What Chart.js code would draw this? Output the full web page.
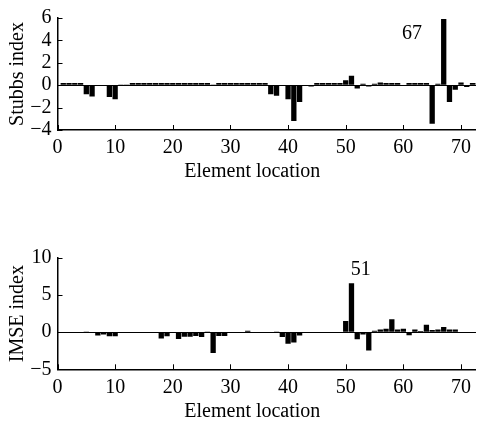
<!DOCTYPE html>
<html>
<head>
<meta charset="utf-8">
<script src="https://cdn.jsdelivr.net/npm/chart.js@4.4.0/dist/chart.umd.min.js"></script>
<style>
    html, body { margin: 0; padding: 0; background: #fff; }
    #wrap { position: relative; width: 477px; height: 428px; overflow: hidden; }
    .box { position: absolute; left: 0; width: 477px; height: 188px; }
    #topBox { top: 0; }
    #bottomBox { top: 240px; }
</style>
</head>
<body>
<div id="wrap">
    <div class="box" id="topBox"><canvas id="stubbsChart"></canvas></div>
    <div class="box" id="bottomBox"><canvas id="imseChart"></canvas></div>
</div>
<script>
// element locations 1..73
const locations = [
    1, 2, 3, 4, 5, 6, 7, 8, 9, 10,
    11, 12, 13, 14, 15, 16, 17, 18, 19, 20,
    21, 22, 23, 24, 25, 26, 27, 28, 29, 30,
    31, 32, 33, 34, 35, 36, 37, 38, 39, 40,
    41, 42, 43, 44, 45, 46, 47, 48, 49, 50,
    51, 52, 53, 54, 55, 56, 57, 58, 59, 60,
    61, 62, 63, 64, 65, 66, 67, 68, 69, 70,
    71, 72, 73
];

const stubbsValues = [
    0.2, 0.2, 0.2, 0.2, -0.8, -1.0, -0.05, -0.05, -1.05, -1.25,
    0.07, 0.07, 0.2, 0.2, 0.2, 0.2, 0.2, 0.2, 0.2, 0.2,
    0.2, 0.2, 0.2, 0.2, 0.2, 0.2, 0.07, 0.2, 0.2, 0.2,
    0.2, 0.2, 0.2, 0.2, 0.2, 0.2, -0.8, -0.95, -0.05, -1.25,
    -3.2, -1.5, -0.05, -0.12, 0.2, 0.2, 0.2, 0.2, 0.2, 0.45,
    0.85, -0.3, 0.12, -0.12, 0.12, 0.25, 0.2, 0.2, 0.2, 0.03,
    0.2, 0.2, 0.2, 0.2, -3.45, 0.12, 5.9, -1.5, -0.4, 0.25,
    -0.15, 0.2, 0.2
];

const imseValues = [
    0, -0.05, 0, -0.1, 0.1, 0, -0.45, -0.3, -0.55, -0.55,
    -0.05, 0, 0, 0, 0, 0, -0.1, -0.85, -0.55, 0,
    -0.9, -0.6, -0.6, -0.5, -0.65, 0.1, -2.8, -0.5, -0.5, 0,
    0, 0, 0.2, 0.05, 0, 0, 0.05, 0.1, -0.65, -1.55,
    -1.4, -0.45, 0, -0.1, 0, 0, 0, 0, 0.05, 1.5,
    6.6, -0.95, -0.3, -2.45, 0.2, 0.35, 0.45, 1.75, 0.35, 0.45,
    -0.4, 0.35, 0.15, 1.0, 0.3, 0.35, 0.7, 0.35, 0.35, 0,
    0.05, 0, 0
];

const locationTicks = [0, 10, 20, 30, 40, 50, 60, 70];
const stubbsTicks = [-4, -2, 0, 2, 4, 6];
const imseTicks = [-5, 0, 5, 10];

const font = { family: "'Liberation Serif', 'Times New Roman', serif", size: 20 };

// small ticks pointing into the plot
const innerTicks = {
    id: "innerTicks",
    afterDraw(chart) {
        const { ctx, chartArea, scales } = chart;
        ctx.save();
        ctx.strokeStyle = "#000";
        ctx.lineWidth = 1;
        ctx.beginPath();
        scales.x.ticks.forEach(t => {
            const px = Math.round(scales.x.getPixelForValue(t.value)) + 0.5;
            ctx.moveTo(px, chartArea.bottom);
            ctx.lineTo(px, chartArea.bottom - 5);
        });
        scales.y.ticks.forEach(t => {
            const py = Math.round(scales.y.getPixelForValue(t.value)) + 0.5;
            ctx.moveTo(chartArea.left, py);
            ctx.lineTo(chartArea.left + 5, py);
        });
        ctx.stroke();
        ctx.restore();
    }
};

// peak number and the x title (the title sits left of the plot centre in the figure)
const extraText = {
    id: "extraText",
    afterDatasetsDraw(chart, args, opts) {
        const { ctx, scales, chartArea } = chart;
        ctx.save();
        ctx.fillStyle = "#000";
        ctx.font = font.size + "px " + font.family;
        ctx.textAlign = "center";
        ctx.textBaseline = "middle";
        ctx.fillText(opts.peak.text, scales.x.getPixelForValue(opts.peak.x), scales.y.getPixelForValue(opts.peak.y));
        ctx.fillText("Element location", scales.x.getPixelForValue(opts.titleAt), chartArea.bottom + 42);
        ctx.restore();
    }
};

function makeChart(id, values, yTicks, yTitle, peak, areaTop, xAxisHeight) {
    const ctx = document.getElementById(id).getContext("2d");
    return new Chart(ctx, {
        type: "bar",
        data: {
            datasets: [{
                data: locations.map((x, i) => ({ x: x, y: values[i] })),
                backgroundColor: "#000",
                borderWidth: 0,
                barPercentage: 0.92,
                categoryPercentage: 1,
            }],
        },
        options: {
            responsive: true,
            maintainAspectRatio: false,
            animation: false,
            layout: { padding: { top: areaTop, right: 0, bottom: 0, left: 0 } },
            plugins: {
                legend: { display: false },
                tooltip: { enabled: false },
                extraText: { peak: peak, titleAt: 33.8 },
            },
            scales: {
                x: {
                    type: "linear",
                    min: 0,
                    max: 72.6,
                    offset: false,
                    afterBuildTicks: s => { s.ticks = locationTicks.map(v => ({ value: v })); },
                    afterFit: s => { s.height = xAxisHeight; },
                    grid: { display: true, drawOnChartArea: false, drawTicks: false },
                    border: { display: true, color: "#000", width: 1.5 },
                    ticks: { color: "#000", font: font, padding: 6, maxRotation: 0, autoSkip: false },
                },
                y: {
                    min: yTicks[0],
                    max: yTicks[yTicks.length - 1],
                    afterBuildTicks: s => { s.ticks = yTicks.map(v => ({ value: v })); },
                    afterFit: s => { s.width = 57.5; },
                    grid: {
                        drawTicks: false,
                        color: c => (c.tick && c.tick.value === 0) ? "#000" : "rgba(0,0,0,0)",
                        lineWidth: 1,
                    },
                    border: { display: true, color: "#000", width: 1.5 },
                    ticks: {
                        color: "#000",
                        font: font,
                        padding: 6,
                        autoSkip: false,
                        callback: v => v < 0 ? "\u2212" + (-v) : String(v),
                    },
                    title: { display: true, text: yTitle, color: "#000", font: font, padding: { top: 6, bottom: 0 } },
                },
            },
        },
        plugins: [innerTicks, extraText],
    });
}

makeChart("stubbsChart", stubbsValues, stubbsTicks, "Stubbs index", { text: "67", x: 61.5, y: 4.6 }, 12, 58);
makeChart("imseChart", imseValues, imseTicks, "IMSE index", { text: "51", x: 52.6, y: 8.4 }, 13, 58.7);
</script>
</body>
</html>
